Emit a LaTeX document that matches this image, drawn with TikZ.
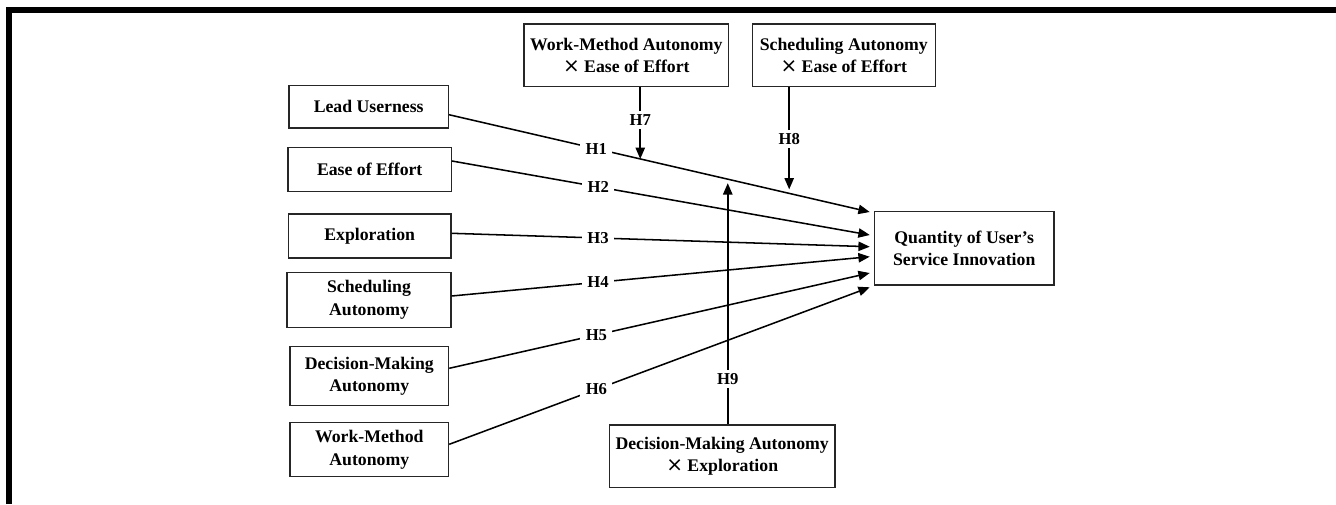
\documentclass[tikz,border=0pt]{standalone}
\usepackage{fontspec}
\setmainfont{Liberation Serif}
\newfontfamily\xfont{DejaVu Sans}
\usetikzlibrary{arrows.meta,calc}
\newcommand{\tms}{{\xfont\mdseries\fontsize{15pt}{17pt}\selectfont ×}}
\begin{document}
\begin{tikzpicture}[x=0.75pt,y=-0.75pt,
  box/.style={draw=black!85,line width=0.9pt,align=center,inner sep=0pt,
    font=\fontsize{13.3pt}{17pt}\selectfont\bfseries},
  link/.style={line width=1.15pt,-{Triangle[length=8.5pt,width=7pt]}},
  hyp/.style={fill=white,inner xsep=4pt,inner ysep=2.5pt,
    font=\fontsize{12.5pt}{14pt}\selectfont\bfseries}]
\useasboundingbox (0,0) rectangle (1336,504);
% frame
\draw[line width=4.8pt] (9,504) -- (9,10) -- (1336,10);

% left boxes
\node[box,minimum width=119.5pt,minimum height=31.7pt] (lu) at (368.7,106.9) {Lead Userness};
\node[box,minimum width=122.5pt,minimum height=33pt] (ee) at (369.7,169.7) {Ease of Effort};
\node[box,minimum width=122pt,minimum height=33pt] (ex) at (369.7,236) {Exploration};
\node[box,minimum width=123pt,minimum height=41.25pt] (sa) at (369,299.8) {Scheduling\\Autonomy};
\node[box,minimum width=119pt,minimum height=44.25pt] (dm) at (369.3,376.2) {Decision-Making\\Autonomy};
\node[box,minimum width=119pt,minimum height=40.8pt] (wm) at (369.3,449.5) {Work-Method\\Autonomy};

% moderator boxes
\node[box,minimum width=153.5pt,minimum height=47pt] (m7) at (626.3,55.3) {Work-Method Autonomy\\\tms\ Ease of Effort};
\node[box,minimum width=137.25pt,minimum height=47pt] (m8) at (843.8,55.3) {Scheduling Autonomy\\\tms\ Ease of Effort};
\node[box,minimum width=169.3pt,minimum height=46.7pt] (m9) at (722.2,456.2) {Decision-Making Autonomy\\\tms\ Exploration};

% outcome
\node[box,minimum width=134.8pt,minimum height=55pt] (q) at (964.2,248.3) {Quantity of User's\\Service Innovation};

% direct effects
\draw[link] ($(lu.east)+(0,7.8)$) -- node[hyp,pos=0.35]{H1}
  coordinate[pos=0.4546] (t7) coordinate[pos=0.6626] (t9) coordinate[pos=0.8086] (t8)
  ($(q.west)+(-4,-36.3)$);
\draw[link] ($(ee.east)+(0,-8.7)$) -- node[hyp,pos=0.35]{H2} ($(q.west)+(-4,-13.3)$);
\draw[link] ($(ex.east)+(0,-2.7)$) -- node[hyp,pos=0.35]{H3} ($(q.west)+(-4,-1.6)$);
\draw[link] ($(sa.east)+(0,-3.8)$) -- node[hyp,pos=0.35]{H4} ($(q.west)+(-4,8.4)$);
\draw[link] ($(dm.east)+(0,-7.9)$) -- node[hyp,pos=0.35]{H5} ($(q.west)+(-4,24.7)$);
\draw[link] ($(wm.east)+(0,-5.2)$) -- node[hyp,pos=0.35]{H6} ($(q.west)+(-4,39)$);

% moderating effects
\draw[link] (m7.south -| t7) -- node[hyp,pos=0.46]{H7} (t7);
\draw[link,shorten >=3pt] (m8.south -| t8) -- node[hyp,pos=0.49]{H8} (t8);
\draw[link,shorten >=3pt] (m9.north -| t9) -- node[hyp,pos=0.186]{H9} (t9);
\end{tikzpicture}
\end{document}
